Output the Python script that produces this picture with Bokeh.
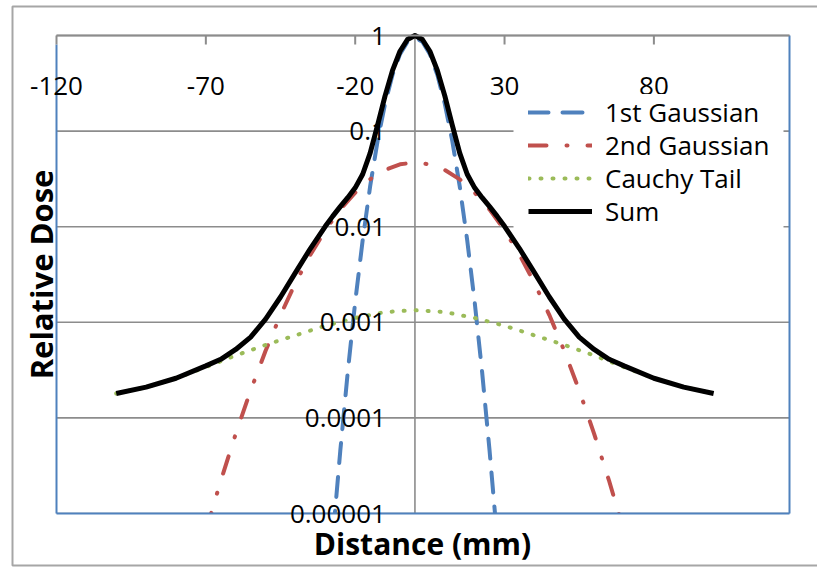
import math
from bokeh.plotting import figure
from bokeh.models import Range1d, Label, Legend, LegendItem, BoxAnnotation
from bokeh.embed import file_html
from bokeh.resources import INLINE

# ---------------- data ----------------
x_ticks = [-120, -70, -20, 30, 80]
x_tick_labels = ["-120", "-70", "-20", "30", "80"]
y_ticks = [1, 0.1, 0.01, 0.001, 0.0001, 0.00001]
y_tick_labels = ["1", "0.1", "0.01", "0.001", "0.0001", "0.00001"]

x_g1 = [-30, -27.5, -25, -22.5, -20, -17.5, -15, -12.5, -10, -7.5, -5, -2.5, 0,
        2.5, 5, 7.5, 10, 12.5, 15, 17.5, 20, 22.5, 25, 27.5, 30]
g1 = [5.7e-7, 5.6e-6, 4.5e-5, 3.0e-4, 1.63e-3, 7.2e-3, 0.0264, 0.079, 0.193, 0.388, 0.638, 0.86, 0.95,
      0.86, 0.638, 0.388, 0.193, 0.079, 0.0264, 7.2e-3, 1.63e-3, 3.0e-4, 4.5e-5, 5.6e-6, 5.7e-7]

x_g2 = [-75, -70, -65, -60, -55, -50, -45, -40, -35, -30, -25, -20, -15, -10, -5, 0,
        5, 10, 15, 20, 25, 30, 35, 40, 45, 50, 55, 60, 65, 70, 75]
g2 = [1.7e-6, 6.5e-6, 2.2e-5, 6.8e-5, 1.94e-4, 5.03e-4, 1.19e-3, 2.58e-3, 5.09e-3, 9.18e-3,
      0.0151, 0.0227, 0.0313, 0.0392, 0.0449, 0.047,
      0.0449, 0.0392, 0.0313, 0.0227, 0.0151, 9.18e-3, 5.09e-3, 2.58e-3, 1.19e-3, 5.03e-4,
      1.94e-4, 6.8e-5, 2.2e-5, 6.5e-6, 1.7e-6]

x_c = [-100, -90, -80, -70, -60, -50, -40, -30, -20, -10, 0,
       10, 20, 30, 40, 50, 60, 70, 80, 90, 100]
cauchy = [1.8e-4, 2.1e-4, 2.6e-4, 3.4e-4, 4.5e-4, 5.8e-4, 7.3e-4, 9.2e-4, 1.11e-3, 1.28e-3, 1.34e-3,
          1.28e-3, 1.11e-3, 9.2e-4, 7.3e-4, 5.8e-4, 4.5e-4, 3.4e-4, 2.6e-4, 2.1e-4, 1.8e-4]

x_sum = [-100, -90, -80, -70, -65, -60, -55, -50, -45, -40, -35, -30, -27.5, -25, -22.5, -20,
         -17.5, -15, -12.5, -10, -7.5, -5, -2.5, 0,
         2.5, 5, 7.5, 10, 12.5, 15, 17.5, 20, 22.5, 25, 27.5, 30, 35, 40, 45, 50, 55, 60,
         65, 70, 80, 90, 100]
total = [1.8e-4, 2.1e-4, 2.6e-4, 3.5e-4, 4.1e-4, 5.2e-4, 7.0e-4, 1.08e-3, 1.84e-3, 3.31e-3,
         5.91e-3, 0.0101, 0.0129, 0.0162, 0.0201, 0.0255, 0.0354, 0.0589, 0.1157, 0.2335, 0.432,
         0.684, 0.908, 0.998,
         0.908, 0.684, 0.432, 0.2335, 0.1157, 0.0589, 0.0354, 0.0255, 0.0201, 0.0162, 0.0129,
         0.0101, 5.91e-3, 3.31e-3, 1.84e-3, 1.08e-3, 7.0e-4, 5.2e-4, 4.1e-4, 3.5e-4, 2.6e-4,
         2.1e-4, 1.8e-4]

series_names = ["1st Gaussian", "2nd Gaussian", "Cauchy Tail", "Sum"]

# ---------------- layout (pixels) ----------------
W, H = 817, 568
PL, PR, PT, PB = 56, 789, 35, 513          # plot area edges
x_min, x_max = -120, 125.4
dec_min, dec_max = -5, 0
y_min, y_max = 10.0 ** dec_min, 10.0 ** dec_max

sx = (PR - PL) / (x_max - x_min)
sy = (PB - PT) / (dec_max - dec_min)


def X(px):
    return x_min + (px - PL) / sx


def Y(py):
    return 10.0 ** (dec_max - (py - PT) / sy)


FONT = "Open Sans"
BLUE = "#4F81BD"
RED = "#C0504D"
GREEN = "#9BBB59"
GRID = "#8c8c8c"
BORDER = "#a6a6a6"

# frame covers the whole canvas; the "plot area" is drawn inside it
p = figure(width=W, height=H, output_backend="svg", toolbar_location=None,
           x_range=Range1d(X(0), X(W)), y_range=Range1d(Y(H), Y(0)),
           y_axis_type="log", x_axis_location=None, y_axis_location=None,
           min_border=0)
p.outline_line_color = None
p.background_fill_color = "white"
p.border_fill_color = "white"
for g in p.grid:
    g.visible = False

# gridlines
p.segment(x0=[x_min] * len(y_ticks), x1=[x_max] * len(y_ticks), y0=y_ticks, y1=y_ticks,
          line_color=GRID, line_width=1.6)
p.segment(x0=[0], x1=[0], y0=[y_min], y1=[y_max], line_color=GRID, line_width=1.6)

# legend background strip (hides gridlines behind the legend's left margin)
p.quad(left=[X(513)], right=[X(783)], top=[Y(96)], bottom=[Y(229)],
       fill_color="white", line_color=None)

# ---------------- series ----------------
r1 = p.line(x_g1, g1, line_color=BLUE, line_width=4, line_dash="20 14", line_cap="round")
r2 = p.line(x_g2, g2, line_color=RED, line_width=4, line_dash="18 20 1 20", line_cap="round")
r3 = p.line(x_c, cauchy, line_color=GREEN, line_width=4, line_dash="1 11", line_cap="round")
r4 = p.line(x_sum, total, line_color="black", line_width=5, line_join="round")

# white mask below the plot area (clips curves at 0.00001)
p.quad(left=[X(0)], right=[X(W)], top=[y_min], bottom=[Y(H)],
       fill_color="white", line_color=None)

# plot-area border: blue left, right and bottom; gray top axis with inward ticks
p.segment(x0=[x_min, x_max, x_min], x1=[x_min, x_max, x_max],
          y0=[Y(PT + 9), y_max, y_min], y1=[y_min, y_min, y_min],
          line_color=BLUE, line_width=2)
p.segment(x0=[x_min], x1=[x_max], y0=[y_max], y1=[y_max], line_color=GRID, line_width=2)
p.segment(x0=x_ticks, x1=x_ticks, y0=[y_max] * len(x_ticks), y1=[Y(PT + 9)] * len(x_ticks),
          line_color=GRID, line_width=2)

# outer chart border
p.add_layout(BoxAnnotation(left=X(12), right=X(W + 20), top=Y(6), bottom=Y(565),
                           fill_alpha=0, line_color=BORDER, line_alpha=1.0, line_width=2))

# ---------------- legend (one row per legend for tight spacing) ----------------
renderers = [r1, r2, r3, r4]
row_centers = [112, 145, 178, 211]
ROW_H = 36
for name, r, c in zip(series_names, renderers, row_centers):
    lg = Legend(items=[LegendItem(label=name, renderers=[r])],
                location=(528, H - (c + ROW_H // 2)), orientation="vertical",
                label_text_font=FONT, label_text_font_size="26px", label_text_color="black",
                glyph_width=64, glyph_height=30, label_height=30, spacing=0, padding=0,
                margin=0, label_standoff=13, border_line_color=None,
                background_fill_color="white", background_fill_alpha=1.0)
    p.add_layout(lg)

# ---------------- tick labels ----------------
for xv, t in zip(x_ticks, x_tick_labels):
    p.add_layout(Label(x=xv, y=Y(85), text=t, text_align="center", text_baseline="middle",
                       text_font=FONT, text_font_size="26px", text_color="black"))
for yv, t in zip(y_ticks, y_tick_labels):
    p.add_layout(Label(x=0, y=yv, x_offset=-29, text=t, text_align="right",
                       text_baseline="middle", text_font=FONT, text_font_size="26px",
                       text_color="black"))

# axis titles
p.add_layout(Label(x=X(422), y=Y(543), text="Distance (mm)",
                   text_align="center", text_baseline="middle", text_font=FONT,
                   text_font_size="30px", text_font_style="bold", text_color="black"))
p.add_layout(Label(x=X(40), y=Y(274), text="Relative Dose",
                   angle=math.pi / 2, text_align="center", text_baseline="middle",
                   text_font=FONT, text_font_size="31px", text_font_style="bold",
                   text_color="black"))

open("out.html", "w").write(file_html(p, INLINE))
